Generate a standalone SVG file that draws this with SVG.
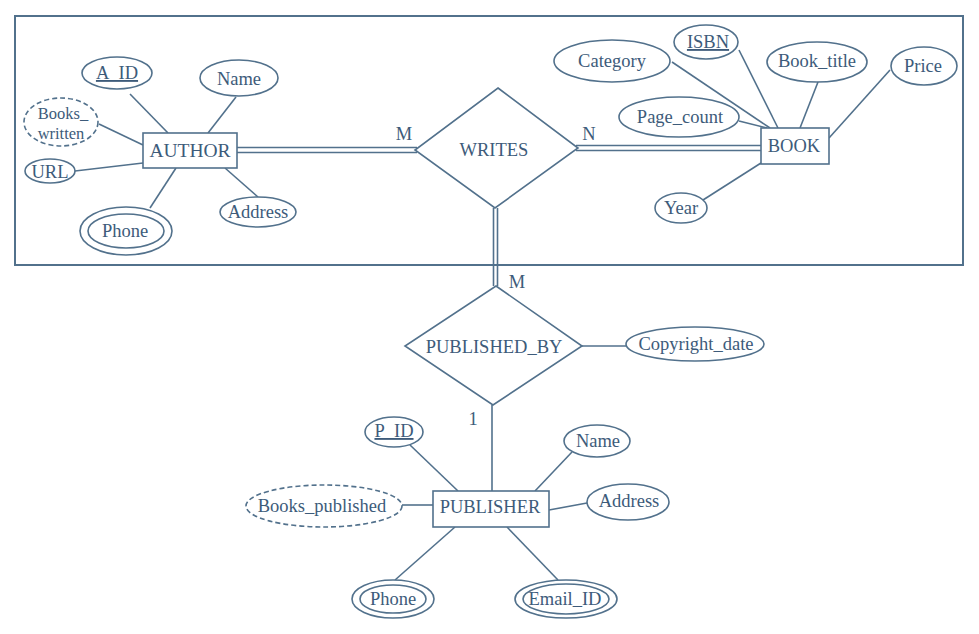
<svg xmlns="http://www.w3.org/2000/svg" width="979" height="634" viewBox="0 0 979 634">
<style>
.s{fill:none;stroke:#52718c;stroke-width:1.6}
.n{fill:#ffffff;stroke:#52718c;stroke-width:1.6}
.d{fill:#ffffff;stroke:#52718c;stroke-width:1.6;stroke-dasharray:5 3}
.t{font-family:"Liberation Serif","Times New Roman",serif;font-size:18.5px;fill:#3d5b7a;text-anchor:middle}
.sm{font-size:16.5px}
.u{text-decoration:underline}
</style>
<rect x="0" y="0" width="979" height="634" fill="#ffffff"/>
<rect id="aggregation" x="15" y="16" width="948" height="249" fill="none" stroke="#52718c" stroke-width="2"/>
<g id="connectors" class="s">
<line x1="130" y1="94" x2="168" y2="133"/>
<line x1="236" y1="97" x2="208" y2="133"/>
<line x1="99" y1="124" x2="143" y2="145"/>
<line x1="75" y1="171" x2="143" y2="163"/>
<line x1="150" y1="208" x2="176" y2="168"/>
<line x1="258" y1="197" x2="225" y2="168"/>
<line x1="237" y1="147.5" x2="417" y2="147.5"/>
<line x1="237" y1="152.5" x2="417" y2="152.5"/>
<line x1="576" y1="145.5" x2="761" y2="145.5"/>
<line x1="576" y1="150.5" x2="761" y2="150.5"/>
<line x1="672" y1="62" x2="770" y2="128"/>
<line x1="739" y1="50" x2="778" y2="128"/>
<line x1="818" y1="82" x2="800" y2="128"/>
<line x1="890" y1="70" x2="829" y2="138"/>
<line x1="739" y1="121" x2="767" y2="128"/>
<line x1="703" y1="200" x2="761" y2="163"/>
<line x1="493.5" y1="208" x2="493.5" y2="286"/>
<line x1="497.5" y1="208" x2="497.5" y2="286"/>
<line x1="582" y1="346" x2="626" y2="346"/>
<line x1="492" y1="405" x2="492" y2="491"/>
<line x1="410" y1="445" x2="458" y2="491"/>
<line x1="572" y1="452" x2="535" y2="491"/>
<line x1="587" y1="503" x2="549" y2="510"/>
<line x1="402" y1="505" x2="433" y2="505"/>
<line x1="395" y1="580" x2="455" y2="527"/>
<line x1="558" y1="580" x2="507" y2="527"/>
</g>
<g id="author">
<rect class="n" x="143" y="133" width="94" height="35"/>
<text class="t" x="190" y="157" style="font-size:19.5px">AUTHOR</text>
</g>
<g id="author_aid">
<ellipse class="n" cx="117" cy="73" rx="35" ry="16"/>
<text class="t u" x="117" y="79">A_ID</text>
</g>
<g id="author_name">
<ellipse class="n" cx="239" cy="78" rx="39" ry="18"/>
<text class="t" x="239" y="85">Name</text>
</g>
<g id="author_books_written">
<ellipse class="d" cx="61" cy="122" rx="37" ry="24"/>
<text class="t sm" x="63" y="119">Books_</text>
<text class="t sm" x="61" y="139">written</text>
</g>
<g id="author_url">
<ellipse class="n" cx="50" cy="171" rx="25" ry="12"/>
<text class="t" x="50" y="178">URL</text>
</g>
<g id="author_phone">
<ellipse class="n" cx="126" cy="231" rx="46" ry="24"/>
<ellipse class="s" cx="126" cy="231" rx="38" ry="17"/>
<text class="t" x="125" y="237">Phone</text>
</g>
<g id="author_address">
<ellipse class="n" cx="258" cy="212" rx="38" ry="15"/>
<text class="t" x="258" y="218">Address</text>
</g>
<g id="writes">
<polygon class="n" points="498,88 578,148 495,208 415,150"/>
<text class="t" x="494" y="156">WRITES</text>
<text class="t" x="404" y="140">M</text>
<text class="t" x="589" y="140">N</text>
</g>
<g id="book">
<rect class="n" x="761" y="128" width="68" height="36"/>
<text class="t" x="794" y="152">BOOK</text>
</g>
<g id="book_isbn">
<ellipse class="n" cx="706" cy="42" rx="32" ry="17"/>
<text class="t u" x="708" y="48">ISBN</text>
</g>
<g id="book_category">
<ellipse class="n" cx="612" cy="61" rx="58" ry="21"/>
<text class="t" x="612" y="67">Category</text>
</g>
<g id="book_title">
<ellipse class="n" cx="817" cy="62" rx="50" ry="20"/>
<text class="t" x="817" y="67">Book_title</text>
</g>
<g id="book_price">
<ellipse class="n" cx="924" cy="66" rx="33" ry="19"/>
<text class="t" x="923" y="72">Price</text>
</g>
<g id="book_page_count">
<ellipse class="n" cx="679" cy="117" rx="60" ry="20"/>
<text class="t" x="680" y="123">Page_count</text>
</g>
<g id="book_year">
<ellipse class="n" cx="681" cy="208" rx="26" ry="15"/>
<text class="t" x="681" y="214">Year</text>
</g>
<g id="published_by">
<polygon class="n" points="496,286 582,346 493,405 405,346"/>
<text class="t" x="494" y="353">PUBLISHED_BY</text>
<text class="t" x="517" y="288">M</text>
<text class="t" x="473" y="425">1</text>
</g>
<g id="copyright_date">
<ellipse class="n" cx="695" cy="344" rx="69" ry="17"/>
<text class="t" x="696" y="350">Copyright_date</text>
</g>
<g id="publisher">
<rect class="n" x="433" y="491" width="116" height="36"/>
<text class="t" x="490" y="513">PUBLISHER</text>
</g>
<g id="publisher_pid">
<ellipse class="n" cx="394" cy="432" rx="29" ry="15"/>
<text class="t u" x="394" y="437">P_ID</text>
</g>
<g id="publisher_name">
<ellipse class="n" cx="597" cy="441" rx="33" ry="16"/>
<text class="t" x="598" y="447">Name</text>
</g>
<g id="publisher_address">
<ellipse class="n" cx="628" cy="502" rx="41" ry="18"/>
<text class="t" x="629" y="507">Address</text>
</g>
<g id="publisher_books_published">
<ellipse class="d" cx="324" cy="506" rx="78" ry="21"/>
<text class="t" x="322" y="512">Books_published</text>
</g>
<g id="publisher_phone">
<ellipse class="n" cx="393" cy="599" rx="41" ry="19"/>
<ellipse class="s" cx="393" cy="599" rx="33" ry="14"/>
<text class="t" x="393" y="605">Phone</text>
</g>
<g id="publisher_email">
<ellipse class="n" cx="566" cy="599" rx="51" ry="19"/>
<ellipse class="s" cx="566" cy="599" rx="43" ry="15"/>
<text class="t" x="565" y="605">Email_ID</text>
</g>
</svg>
